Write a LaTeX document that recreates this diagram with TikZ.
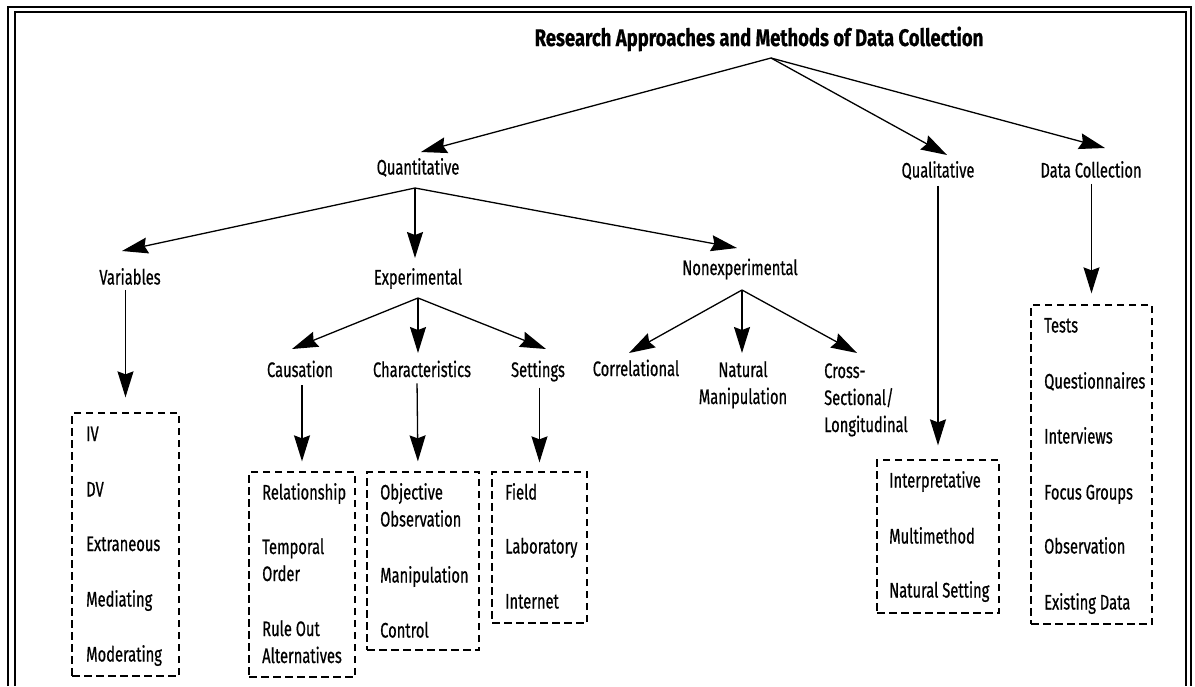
\documentclass[tikz,border=0pt]{standalone}
\usepackage{fontspec}
\setmainfont[FakeStretch=0.70,FakeBold=0.6]{Fira Sans}
\usetikzlibrary{arrows.meta}
\begin{document}
\begin{tikzpicture}[x=1pt,y=-1pt,
  every node/.style={font=\fontsize{21}{27}\selectfont, inner sep=2pt},
  lbl/.style={anchor=base, align=center},
  itm/.style={anchor=base west, align=left},
  dbox/.style={draw, line width=1.3pt, dash pattern=on 7.5pt off 4.5pt, inner sep=0pt},
  arr/.style={draw, line width=1.3pt, -{Stealth[length=26pt,width=16pt,inset=3pt]}},
  frameout/.style={line width=2.2pt},
  framein/.style={line width=1.2pt}]
\useasboundingbox (0,0) rectangle (1195,686);

% double frame, open at the bottom
\draw[frameout] (8,686) -- (8,7) -- (1191,7) -- (1191,686);
\draw[framein] (15,686) -- (15,12) -- (1186,12) -- (1186,686);

% headings (multi-line nodes sit on the baseline of their last line)
\node[lbl, font=\fontsize{24}{27}\selectfont\bfseries\addfontfeature{FakeStretch=0.77}] (title) at (759,46)
  {Research Approaches and Methods of Data Collection};
\node[lbl] (quan) at (418,174.5) {Quantitative};
\node[lbl] (qual) at (938,177.5) {Qualitative};
\node[lbl] (datac) at (1091,177.5) {Data Collection};
\node[lbl] (var) at (130,284.5) {Variables};
\node[lbl] (exper) at (418,284.5) {Experimental};
\node[lbl] (nonexp) at (740,275) {Nonexperimental};
\node[lbl] (caus) at (300,377) {Causation};
\node[lbl] (chars) at (422,377) {Characteristics};
\node[lbl] (sett) at (538,377) {Settings};
\node[lbl] (corr) at (636,376) {Correlational};
\node[lbl] (natm) at (743,404) {Natural\\Manipulation};
\node[itm] (cross) at (822,432) {Cross-\\Sectional/\\Longitudinal};

% dashed lists
\node[dbox, minimum width=107pt, minimum height=263pt] (vbox) at (125.5,544.5) {};
\node[dbox, minimum width=106pt, minimum height=205pt] (cbox) at (302,574.5) {};
\node[dbox, minimum width=112pt, minimum height=178pt] (chbox) at (423,561) {};
\node[dbox, minimum width=95pt, minimum height=151pt] (sbox) at (539.5,547.5) {};
\node[dbox, minimum width=122pt, minimum height=153pt] (qbox) at (938,536.5) {};
\node[dbox, minimum width=121pt, minimum height=319pt] (dbx) at (1091.5,464.5) {};

\node[itm] (v1) at (84,441) {IV};
\node[itm] (v2) at (84,496.5) {DV};
\node[itm] (v3) at (84,551) {Extraneous};
\node[itm] (v4) at (84,606.5) {Mediating};
\node[itm] (v5) at (84,661.5) {Moderating};

\node[itm] (c1) at (260,499.5) {Relationship};
\node[itm] (c2) at (260,581) {Temporal\\Order};
\node[itm] (c3) at (260,663) {Rule Out\\Alternatives};

\node[itm] (h1) at (378,526.5) {Objective\\Observation};
\node[itm] (h2) at (378,582.5) {Manipulation};
\node[itm] (h3) at (378,637.5) {Control};

\node[itm] (s1) at (503,499.5) {Field};
\node[itm] (s2) at (503,553.5) {Laboratory};
\node[itm] (s3) at (503,608.5) {Internet};

\node[itm] (q1) at (887,487.5) {Interpretative};
\node[itm] (q2) at (887,543.5) {Multimethod};
\node[itm] (q3) at (887,597.5) {Natural Setting};

\node[itm] (d1) at (1042,332.5) {Tests};
\node[itm] (d2) at (1042,388.5) {Questionnaires};
\node[itm] (d3) at (1042,443.5) {Interviews};
\node[itm] (d4) at (1042,499.5) {Focus Groups};
\node[itm] (d5) at (1042,553.5) {Observation};
\node[itm] (d6) at (1042,609.5) {Existing Data};

% branching points and arrow ends
\coordinate (f-title) at (771,58);
\coordinate (f-quan) at (415,188);
\coordinate (f-exp) at (418,298);
\coordinate (f-non) at (742,290);
\coordinate (in-quan) at (421,152);
\coordinate (in-qual) at (947,155);
\coordinate (in-datac) at (1105,148);
\coordinate (in-var) at (122,251);
\coordinate (in-exper) at (415,258);
\coordinate (in-nonexp) at (737,248);
\coordinate (in-caus) at (292,349);
\coordinate (in-chars) at (418,353);
\coordinate (in-sett) at (546,349);
\coordinate (in-corr) at (629,353);
\coordinate (in-natm) at (742,353);
\coordinate (in-cross) at (857,353);

\draw[arr] (f-title) -- (in-quan);
\draw[arr] (f-title) -- (in-qual);
\draw[arr] (f-title) -- (in-datac);
\draw[arr] (f-quan) -- (in-var);
\draw[arr] (f-quan) -- (in-exper);
\draw[arr] (f-quan) -- (in-nonexp);
\draw[arr] (f-exp) -- (in-caus);
\draw[arr] (f-exp) -- (in-chars);
\draw[arr] (f-exp) -- (in-sett);
\draw[arr] (f-non) -- (in-corr);
\draw[arr] (f-non) -- (in-natm);
\draw[arr] (f-non) -- (in-cross);

% straight drops into the lists
\draw[arr, shorten <=3pt, shorten >=15pt] (var.south -| vbox.north) -- (vbox.north);
\draw[arr, shorten <=6pt, shorten >=10pt] (caus.south -| cbox.north) -- (cbox.north);
\draw[arr, shorten <=4pt, shorten >=10pt] ([xshift=-5pt]chars.south) -- ([xshift=-5pt]chbox.north);
\draw[arr, shorten <=4pt, shorten >=9pt] (sett.south -| sbox.north) -- (sbox.north);
\draw[arr, shorten <=4pt, shorten >=14pt] (qual.south -| qbox.north) -- (qbox.north);
\draw[arr, shorten <=4pt, shorten >=11pt] (datac.south -| dbx.north) -- (dbx.north);
\end{tikzpicture}
\end{document}
